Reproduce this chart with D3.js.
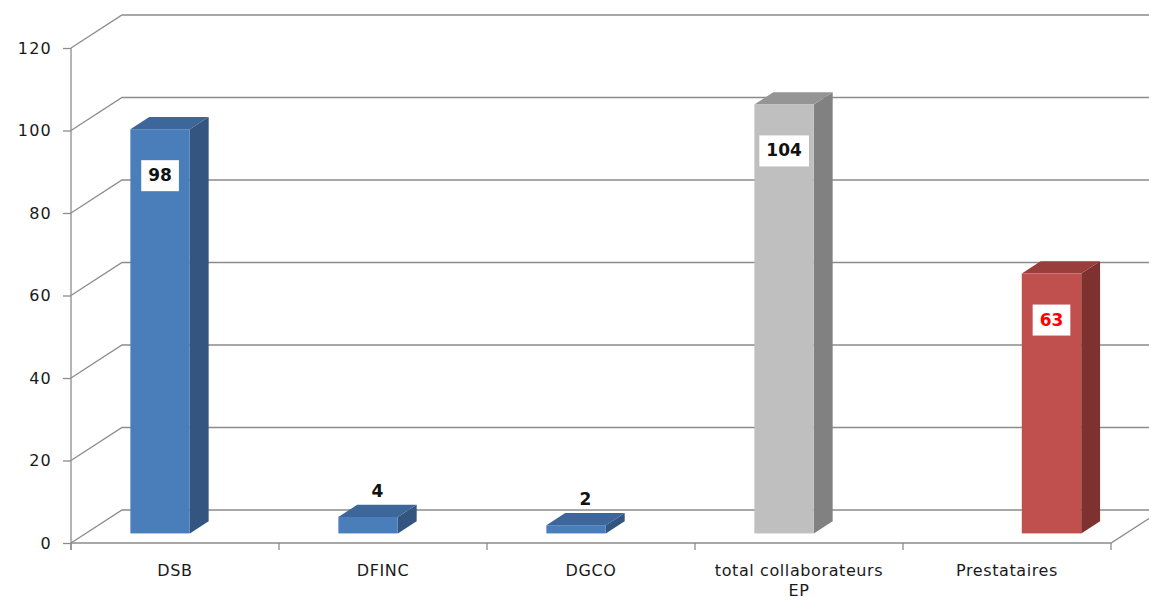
<!DOCTYPE html>
<html>
<head>
<meta charset="utf-8">
<script src="https://cdn.jsdelivr.net/npm/d3@7/dist/d3.min.js"></script>
<style>
  html, body { margin: 0; padding: 0; background: #ffffff; }
  svg { display: block; }
  text { font-family: "DejaVu Sans", Verdana, sans-serif; }
</style>
</head>
<body>
<svg id="chart" width="1149" height="602"></svg>
<script>
// Headcount by department, plus external contractors
const categories = ["DSB", "DFINC", "DGCO", "total collaborateurs EP", "Prestataires"];
const seriesNames = ["effectifs", "prestataires"];
const effectifs = [98, 4, 2, 104, null];
const prestataires = [null, null, null, null, 63];
const yTicks = [0, 20, 40, 60, 80, 100, 120];

// face colours: front, side, top
const palette = {
  blue: { front: "#4a7ebb", side: "#34557f", top: "#3d669a" },
  grey: { front: "#bfbfbf", side: "#818181", top: "#959595" },
  red:  { front: "#c0504d", side: "#7d3230", top: "#9a3e3b" }
};
const effectifsColours = ["blue", "blue", "blue", "grey", "blue"];
const prestatairesColours = ["red", "red", "red", "red", "red"];

const svg = d3.select("#chart");

// plot frame
const plotLeft = 71, plotRight = 1111, plotBottom = 543, plotTop = 48;
const depthX = 51, depthY = -33;      // wall depth
const barFront = 0.29, barBack = 0.66; // bar position within depth

const x0 = d3.scaleBand().domain(categories).range([plotLeft, plotRight]).paddingInner(0).paddingOuter(0);
const x1 = d3.scaleBand().domain(seriesNames).range([0, x0.bandwidth()]).paddingInner(0).paddingOuter(0.75);
const y = d3.scaleLinear().domain([0, 120]).range([plotBottom, plotTop]);

const gridColour = "#8c8c8c";
const grid = svg.append("g").attr("fill", "none").attr("stroke", gridColour).attr("stroke-width", 1.3);

// gridlines: side wall diagonal plus back wall horizontal
yTicks.forEach(v => {
  const yy = y(v);
  grid.append("polyline")
    .attr("points", `${plotLeft},${yy} ${plotLeft + depthX},${yy + depthY} ${plotRight + depthX},${yy + depthY}`);
});
// floor front edge and right diagonal
grid.append("polyline")
  .attr("points", `${plotLeft},${plotBottom} ${plotRight},${plotBottom} ${plotRight + depthX},${plotBottom + depthY}`);

// value axis
const yAxis = d3.axisLeft(y).tickValues(yTicks).tickSize(8).tickPadding(11);
const gy = svg.append("g").attr("transform", `translate(${plotLeft},0)`).call(yAxis);
gy.select(".domain").attr("stroke", gridColour).attr("stroke-width", 1.3)
  .attr("d", `M0,${plotTop}V${plotBottom + 7}`);
gy.selectAll(".tick line").attr("stroke", gridColour).attr("stroke-width", 1.3);
gy.selectAll(".tick text").attr("fill", "#1a1a1a").style("font-size", "16px")
  .style("letter-spacing", "1.2px")
  .style("font-family", "'DejaVu Sans', Verdana, sans-serif");

// category boundary ticks
const boundaries = categories.map(c => x0(c)).concat([x0(categories[categories.length - 1]) + x0.bandwidth()]);
svg.append("g").selectAll("line").data(boundaries).join("line")
  .attr("x1", d => d).attr("x2", d => d)
  .attr("y1", plotBottom).attr("y2", plotBottom + 7)
  .attr("stroke", gridColour).attr("stroke-width", 1.3);

// bars
const bars = [];
categories.forEach((c, i) => {
  if (effectifs[i] != null) bars.push({ cat: c, series: "effectifs", value: effectifs[i], colour: palette[effectifsColours[i]], labelColour: "#111" });
  if (prestataires[i] != null) bars.push({ cat: c, series: "prestataires", value: prestataires[i], colour: palette[prestatairesColours[i]], labelColour: "#ff0000" });
});

const fx = barFront * depthX, fy = barFront * depthY;
const ex = (barBack - barFront) * depthX, ey = (barBack - barFront) * depthY;
const bw = x1.bandwidth();

const gb = svg.append("g");
bars.forEach(b => {
  const x = x0(b.cat) + x1(b.series) + fx;
  const yt = y(b.value) + fy;
  const yb = y(0) + fy;
  // side face
  gb.append("path")
    .attr("d", `M${x + bw},${yt}L${x + bw + ex},${yt + ey}L${x + bw + ex},${yb + ey}L${x + bw},${yb}Z`)
    .attr("fill", b.colour.side);
  // top face
  gb.append("path")
    .attr("d", `M${x},${yt}L${x + ex},${yt + ey}L${x + bw + ex},${yt + ey}L${x + bw},${yt}Z`)
    .attr("fill", b.colour.top);
  // front face
  gb.append("rect")
    .attr("x", x).attr("y", yt).attr("width", bw).attr("height", yb - yt)
    .attr("fill", b.colour.front);

  // data label: inside the top of tall bars, above short ones
  const tall = (yb - yt) > 60;
  const lg = gb.append("g");
  const t = lg.append("text")
    .attr("text-anchor", "middle")
    .attr("dominant-baseline", "central")
    .attr("font-weight", "bold")
    .style("font-size", "17px")
    .attr("fill", b.labelColour)
    .text(b.value);
  if (tall) {
    const cx = x + bw / 2, cy = yt + 46;
    t.attr("x", cx).attr("y", cy);
    const bb = t.node().getBBox();
    lg.insert("rect", "text")
      .attr("x", bb.x - 7).attr("y", cy - 15).attr("width", bb.width + 14).attr("height", 31)
      .attr("fill", "#ffffff");
  } else {
    t.attr("x", x + bw / 2 + ex / 2).attr("y", yt + ey - 14);
  }
});

// category labels, wrapped to the band width
const gx = svg.append("g");
categories.forEach(c => {
  const cx = x0(c) + x0.bandwidth() / 2;
  const t = gx.append("text").attr("text-anchor", "middle").attr("fill", "#1a1a1a")
    .style("font-size", "16px").style("letter-spacing", "0.6px");
  const words = c.split(" ");
  let line = [], lineNo = 0;
  let tspan = t.append("tspan").attr("x", cx).attr("y", 576);
  words.forEach(w => {
    line.push(w);
    tspan.text(line.join(" "));
    if (tspan.node().getComputedTextLength() > 188 && line.length > 1) {
      line.pop();
      tspan.text(line.join(" "));
      line = [w];
      lineNo++;
      tspan = t.append("tspan").attr("x", cx).attr("y", 576 + lineNo * 20).text(w);
    }
  });
});
</script>
</body>
</html>
